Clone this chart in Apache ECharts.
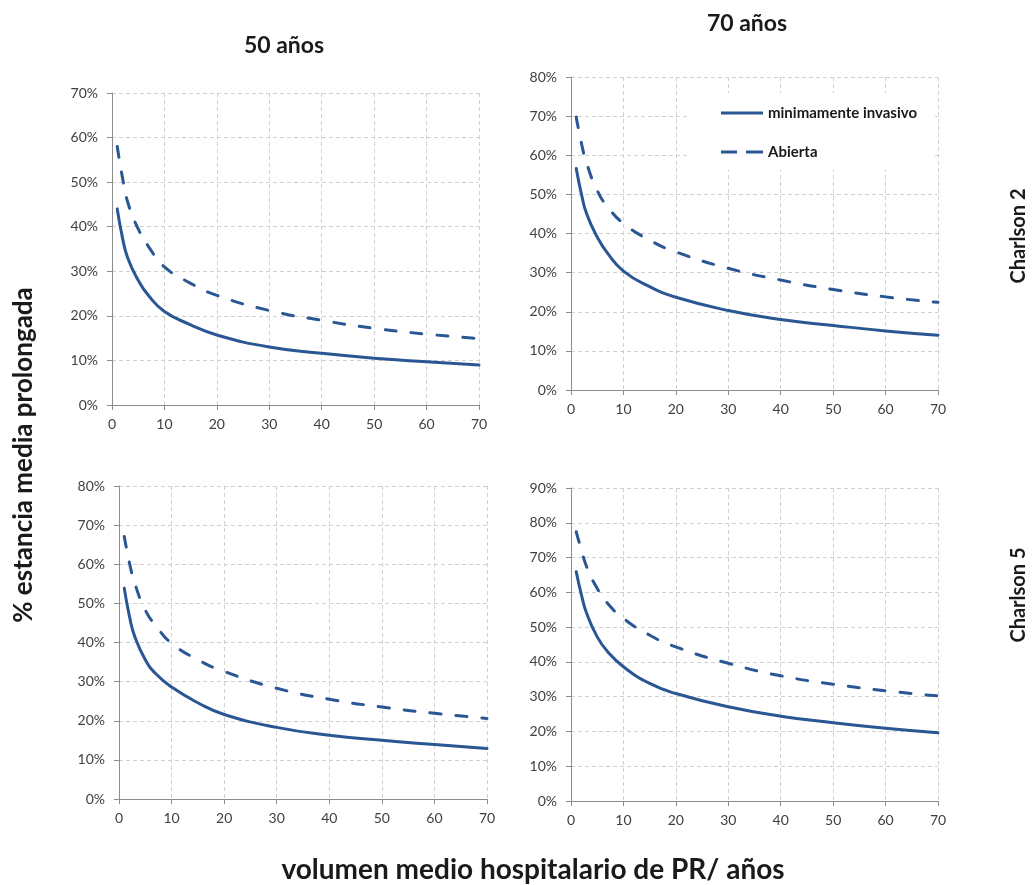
<!DOCTYPE html>
<html>
<head>
<meta charset="utf-8">
<script src="https://cdn.jsdelivr.net/npm/echarts@6/dist/echarts.min.js"></script>
<style>
html,body{margin:0;padding:0;background:#fff;}
#c{width:1033px;height:885px;}
</style>
</head>
<body>
<div id="c"></div>
<script>
// x values: mean hospital volume
var volumen = [1, 2, 3, 5, 7, 10, 15, 20, 30, 40, 50, 60, 70];

// 50 años, Charlson 2
var p1Min = [44, 37.5, 33, 28, 24.5, 21, 18, 15.7, 13, 11.6, 10.5, 9.7, 9];
var p1Abi = [58, 51, 45.5, 39.5, 35.5, 31, 27.3, 24.6, 21.2, 19, 17.2, 15.9, 14.9];
// 70 años, Charlson 2
var p2Min = [56.6, 50, 45, 39.1, 34.9, 30.4, 26.4, 23.7, 20.3, 18, 16.5, 15.1, 14];
var p2Abi = [69.8, 63, 57.9, 51, 46.8, 42.6, 38.3, 35.3, 31.1, 28.1, 25.7, 23.8, 22.4];
// 50 años, Charlson 5
var p3Min = [53.9, 46.6, 41.5, 35.6, 32, 28.6, 24.6, 21.6, 18.3, 16.3, 15, 13.9, 12.9];
var p3Abi = [67.1, 60.3, 55.1, 48.3, 44.3, 39.8, 35.6, 32.6, 28.3, 25.5, 23.5, 21.9, 20.6];
// 70 años, Charlson 5
var p4Min = [65.9, 59.2, 53.9, 47.2, 42.9, 38.6, 33.8, 30.9, 27.1, 24.4, 22.5, 20.9, 19.6];
var p4Abi = [77.4, 72.1, 67.3, 61.1, 56.8, 52.5, 47.7, 44.3, 39.6, 36, 33.6, 31.7, 30.2];

var yMax = [70, 80, 80, 90];

var serieMin = 'minimamente invasivo';
var serieAbi = 'Abierta';

var panels = [[p1Min, p1Abi], [p2Min, p2Abi], [p3Min, p3Abi], [p4Min, p4Abi]];

var grids = [
  {left: 112, top: 93, width: 367, height: 312},
  {left: 571, top: 77, width: 367, height: 313},
  {left: 119, top: 486, width: 368, height: 313},
  {left: 571, top: 488, width: 367, height: 313}
];

var lineColor = '#2a5694';
var axisGray = '#8c8c8c';
var gridGray = '#d0d0d0';
var labelColor = '#404040';
var font = 'Lato, "Open Sans", sans-serif';

var xAxes = [], yAxes = [], series = [];
for (var i = 0; i < 4; i++) {
  xAxes.push({
    type: 'value', gridIndex: i, min: 0, max: 70, interval: 10,
    axisLine: {show: true, lineStyle: {color: axisGray, width: 1}},
    axisTick: {show: true, length: 5, lineStyle: {color: axisGray}},
    axisLabel: {color: labelColor, fontSize: 14, fontFamily: font, margin: 12},
    splitLine: {show: true, lineStyle: {color: gridGray, type: [4, 3], width: 1}}
  });
  yAxes.push({
    type: 'value', gridIndex: i, min: 0, max: yMax[i], interval: 10,
    axisLine: {show: true, lineStyle: {color: axisGray, width: 1}},
    axisTick: {show: true, length: 5, lineStyle: {color: axisGray}},
    axisLabel: {color: labelColor, fontSize: 14, fontFamily: font, formatter: '{value}%', margin: 14},
    splitLine: {show: true, lineStyle: {color: gridGray, type: [4, 3], width: 1}}
  });
  var d1 = volumen.map(function (v, k) { return [v, panels[i][0][k]]; });
  var d2 = volumen.map(function (v, k) { return [v, panels[i][1][k]]; });
  series.push({
    name: serieMin, type: 'line', xAxisIndex: i, yAxisIndex: i, data: d1,
    smooth: 0.5, symbol: 'none', silent: true,
    lineStyle: {color: lineColor, width: 3, type: 'solid', cap: 'round', join: 'round'}, itemStyle: {color: lineColor}
  });
  series.push({
    name: serieAbi, type: 'line', xAxisIndex: i, yAxisIndex: i, data: d2,
    smooth: 0.5, symbol: 'none', silent: true,
    lineStyle: {color: lineColor, width: 3, type: [11, 15], cap: 'round', join: 'round'}, itemStyle: {color: lineColor}
  });
}

var chart = echarts.init(document.getElementById('c'), null, {renderer: 'canvas'});
chart.setOption({
  animation: false,
  backgroundColor: '#fff',
  grid: grids,
  xAxis: xAxes,
  yAxis: yAxes,
  series: series,
  legend: {
    data: [
      {name: serieMin, icon: 'path://M0,0H42V3H0Z'},
      {name: serieAbi, icon: 'path://M0,0H16V3H0Z M25,0H42V3H25Z'}
    ],
    orient: 'vertical',
    left: 688, top: 93,
    itemWidth: 42, itemHeight: 3, itemGap: 23,
    backgroundColor: '#fff',
    padding: [12, 18, 10, 33],
    textStyle: {color: '#1a1a1a', fontSize: 15, lineHeight: 16, fontWeight: 'bold', fontFamily: font},
    selectedMode: false
  },
  graphic: [
    {type: 'text', x: 284, y: 46, style: {text: '50 años', font: 'bold 23px ' + font, fill: '#1a1a1a', textAlign: 'center', textVerticalAlign: 'middle'}},
    {type: 'text', x: 747, y: 24, style: {text: '70 años', font: 'bold 23px ' + font, fill: '#1a1a1a', textAlign: 'center', textVerticalAlign: 'middle'}},
    {type: 'text', x: 1019, y: 236, rotation: Math.PI / 2, style: {text: 'Charlson 2', font: 'bold 20px ' + font, fill: '#1a1a1a', textAlign: 'center', textVerticalAlign: 'middle'}},
    {type: 'text', x: 1019, y: 595, rotation: Math.PI / 2, style: {text: 'Charlson 5', font: 'bold 20px ' + font, fill: '#1a1a1a', textAlign: 'center', textVerticalAlign: 'middle'}},
    {type: 'text', x: 24, y: 455, rotation: Math.PI / 2, style: {text: '% estancia media prolongada', font: 'bold 26px ' + font, fill: '#1a1a1a', textAlign: 'center', textVerticalAlign: 'middle'}},
    {type: 'text', x: 533, y: 870, style: {text: 'volumen medio hospitalario de PR/ años', font: 'bold 28px ' + font, fill: '#1a1a1a', textAlign: 'center', textVerticalAlign: 'middle'}}
  ]
});
</script>
</body>
</html>
